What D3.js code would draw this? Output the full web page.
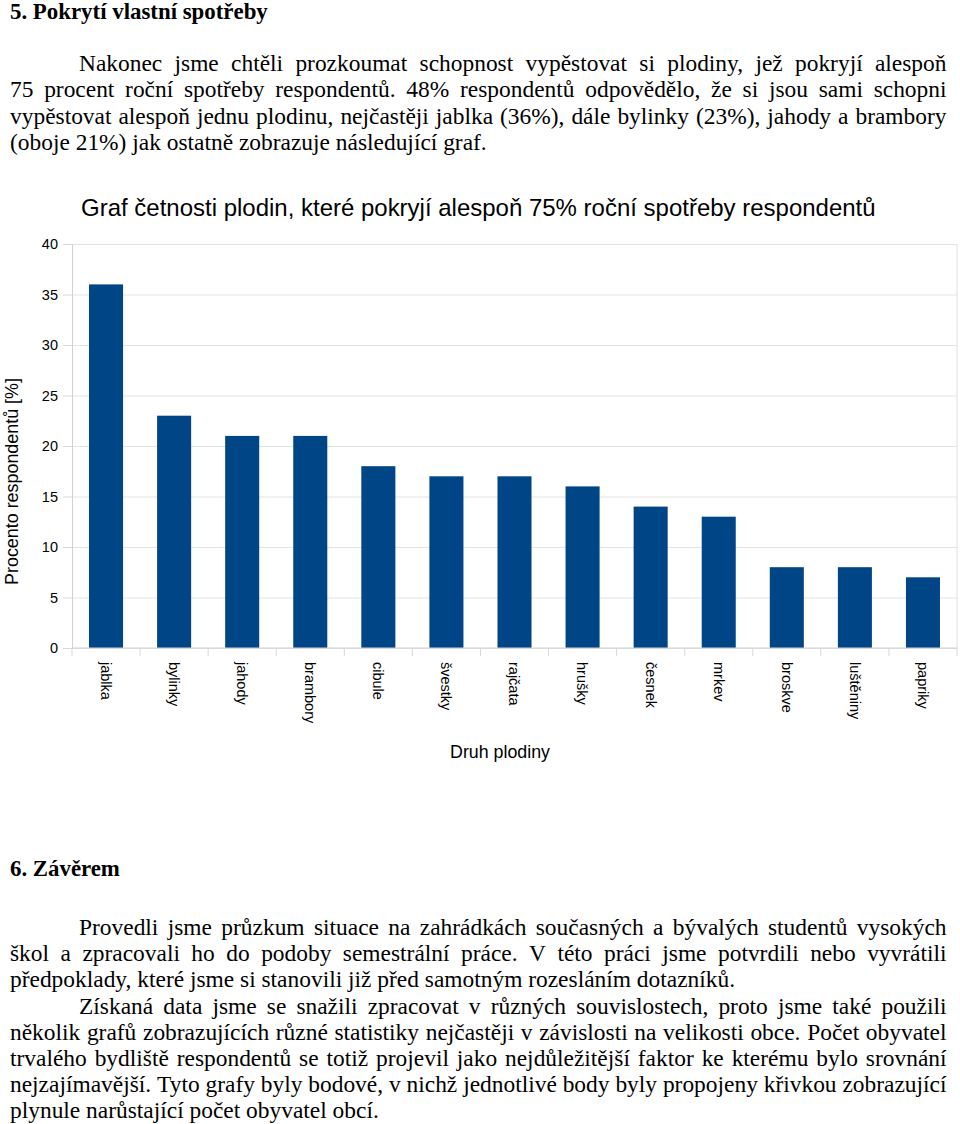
<!DOCTYPE html>
<html>
<head>
<meta charset="utf-8">
<script src="https://cdn.jsdelivr.net/npm/d3@7"></script>
<style>
  html, body { margin: 0; padding: 0; background: #ffffff; }
  svg { display: block; }
</style>
</head>
<body>
<svg id="page" width="960" height="1124"></svg>
<script>
// ---------------- data ----------------
const categories = ["jablka", "bylinky", "jahody", "brambory", "cibule", "švestky", "rajčata",
                    "hrušky", "česnek", "mrkev", "broskve", "luštěniny", "papriky"];
const values = [36, 23, 21, 21, 18, 17, 17, 16, 14, 13, 8, 8, 7];
const yTickValues = [0, 5, 10, 15, 20, 25, 30, 35, 40];
const chartTitle = "Graf četnosti plodin, které pokryjí alespoň 75% roční spotřeby respondentů";
const yAxisTitle = "Procento respondentů [%]";
const xAxisTitle = "Druh plodiny";

const heading5 = "5. Pokrytí vlastní spotřeby";
const para5 = [
  "Nakonec jsme chtěli prozkoumat schopnost vypěstovat si plodiny, jež pokryjí alespoň",
  "75 procent roční spotřeby respondentů. 48% respondentů odpovědělo, že si jsou sami schopni",
  "vypěstovat alespoň jednu plodinu, nejčastěji jablka (36%), dále bylinky (23%), jahody a brambory",
  "(oboje 21%) jak ostatně zobrazuje následující graf."
];
const heading6 = "6. Závěrem";
const para6 = [
  "Provedli jsme průzkum situace na zahrádkách současných a bývalých studentů vysokých",
  "škol a zpracovali ho do podoby semestrální práce. V této práci jsme potvrdili nebo vyvrátili",
  "předpoklady, které jsme si stanovili již před samotným rozesláním dotazníků.",
  "Získaná data jsme se snažili zpracovat v různých souvislostech, proto jsme také použili",
  "několik grafů zobrazujících různé statistiky nejčastěji v závislosti na velikosti obce. Počet obyvatel",
  "trvalého bydliště respondentů se totiž projevil jako nejdůležitější faktor ke kterému bylo srovnání",
  "nejzajímavější. Tyto grafy byly bodové, v nichž jednotlivé body byly propojeny křivkou zobrazující",
  "plynule narůstající počet obyvatel obcí."
];
// line layout: [indent?, justified?]
const para5Layout = [[true, true], [false, true], [false, true], [false, false]];
const para6Layout = [[true, true], [false, true], [false, false], [true, true], [false, true], [false, true], [false, true], [false, false]];

// ---------------- page text ----------------
const svg = d3.select("#page");
const SERIF = "'Liberation Serif', 'Times New Roman', serif";
const SANS = "'Liberation Sans', Arial, sans-serif";
const LEFT = 10, INDENT = 79, RIGHT = 946.5;

function fitWidth(sel, target) {
  const w = sel.node().getComputedTextLength();
  const fs = parseFloat(sel.attr("font-size"));
  sel.attr("font-size", fs * target / w);
}

// body font size chosen so that an unjustified line has the reference's width
const probe = svg.append("text").attr("font-family", SERIF).attr("font-size", 21).text(para5[3]);
const BODY_FS = 21 * 477 / probe.node().getComputedTextLength();
probe.remove();

function drawHeading(text, y, width) {
  const t = svg.append("text").attr("x", LEFT).attr("y", y)
    .attr("font-family", SERIF).attr("font-weight", "bold").attr("font-size", 19)
    .attr("fill", "#000").text(text);
  fitWidth(t, width);
}

function drawParagraph(lines, layout, y0, lh) {
  lines.forEach((line, i) => {
    const [indent, justify] = layout[i];
    const x0 = indent ? INDENT : LEFT;
    const y = y0 + i * lh;
    if (!justify) {
      svg.append("text").attr("x", x0).attr("y", y)
        .attr("font-family", SERIF).attr("font-size", BODY_FS).attr("fill", "#000").text(line);
      return;
    }
    const words = line.split(" ");
    const g = svg.append("g");
    const nodes = words.map(w => g.append("text").attr("y", y)
      .attr("font-family", SERIF).attr("font-size", BODY_FS).attr("fill", "#000").text(w));
    const widths = nodes.map(n => n.node().getComputedTextLength());
    const total = d3.sum(widths);
    const gap = (RIGHT - x0 - total) / (words.length - 1);
    let x = x0;
    nodes.forEach((n, k) => { n.attr("x", x); x += widths[k] + gap; });
  });
}

drawHeading(heading5, 19, 258);
drawParagraph(para5, para5Layout, 71, 26.4);
drawHeading(heading6, 876, 110);
drawParagraph(para6, para6Layout, 935, 26.2);

// ---------------- chart ----------------
const plot = { left: 72, right: 957, top: 244, bottom: 648 };
const x = d3.scaleBand().domain(categories).range([plot.left, plot.right])
  .paddingInner(0.5).paddingOuter(0.25);
const y = d3.scaleLinear().domain([0, 40]).range([plot.bottom, plot.top]);
const chart = svg.append("g");

// grid lines
chart.append("g")
  .attr("transform", `translate(${plot.left},0)`)
  .call(d3.axisLeft(y).tickValues(yTickValues).tickSize(-(plot.right - plot.left)).tickFormat(""))
  .call(g => g.select(".domain").remove())
  .call(g => g.selectAll("line").attr("stroke", "#e3e3e3").attr("stroke-width", 1));

// right border
chart.append("line").attr("x1", plot.right).attr("x2", plot.right)
  .attr("y1", plot.top).attr("y2", plot.bottom).attr("stroke", "#e0e0e0");

// y axis
chart.append("g")
  .attr("transform", `translate(${plot.left},0)`)
  .call(d3.axisLeft(y).tickValues(yTickValues).tickSize(9).tickPadding(5))
  .call(g => g.select(".domain").attr("stroke", "#d0d0d0"))
  .call(g => g.selectAll(".tick line").attr("stroke", "#d8d8d8"))
  .call(g => g.selectAll("text").attr("font-family", SANS).attr("font-size", 14.5).attr("fill", "#000"));

// bars
chart.append("g").selectAll("rect").data(categories).join("rect")
  .attr("x", d => x(d))
  .attr("width", x.bandwidth())
  .attr("y", (d, i) => y(values[i]))
  .attr("height", (d, i) => y(0) - y(values[i]))
  .attr("fill", "#004586");

// x axis baseline and boundary ticks
const step = x.step();
const boundaries = d3.range(categories.length + 1).map(i => plot.left + i * step);
chart.append("line").attr("x1", plot.left).attr("x2", plot.right)
  .attr("y1", y(0)).attr("y2", y(0)).attr("stroke", "#d0d0d0");
chart.append("g").selectAll("line").data(boundaries).join("line")
  .attr("x1", d => d).attr("x2", d => d)
  .attr("y1", y(0)).attr("y2", y(0) + 8).attr("stroke", "#d8d8d8");

// x labels (rotated)
chart.append("g").selectAll("text").data(categories).join("text")
  .attr("transform", d => `translate(${x(d) + x.bandwidth() / 2},662) rotate(90)`)
  .attr("dy", "0.35em")
  .attr("text-anchor", "start")
  .attr("font-family", SANS).attr("font-size", 14.5).attr("fill", "#000")
  .text(d => d);

// titles
const tt = chart.append("text").attr("x", 81).attr("y", 216)
  .attr("font-family", SANS).attr("font-size", 21).attr("fill", "#000").text(chartTitle);
fitWidth(tt, 795);

const yt = chart.append("text")
  .attr("transform", "translate(18,481.5) rotate(-90)")
  .attr("text-anchor", "middle")
  .attr("font-family", SANS).attr("font-size", 17).attr("fill", "#000").text(yAxisTitle);
fitWidth(yt, 207);

const xt = chart.append("text").attr("x", 500).attr("y", 758)
  .attr("text-anchor", "middle")
  .attr("font-family", SANS).attr("font-size", 17).attr("fill", "#000").text(xAxisTitle);
fitWidth(xt, 100);
</script>
</body>
</html>
